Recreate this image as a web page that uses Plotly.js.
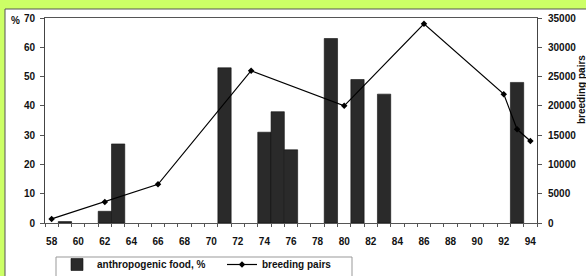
<!DOCTYPE html>
<html>
<head>
<meta charset="utf-8">
<script src="https://cdn.plot.ly/plotly-3.0.1.min.js"></script>
<style>html,body{margin:0;padding:0;background:#fff;}#chart{width:586px;height:276px;}</style>
</head>
<body>
<div id="chart"></div>
<script>
// Data
var barYears = [59, 62, 63, 71, 74, 75, 76, 79, 81, 83, 93];
var foodPct  = [0.5, 4, 27, 53, 31, 38, 25, 63, 49, 44, 48];
var pairYears = [58, 62, 66, 73, 80, 86, 92, 93, 94];
var pairs     = [700, 3600, 6600, 26000, 20000, 34000, 22000, 16000, 14000];
var xTickVals = [58,60,62,64,66,68,70,72,74,76,78,80,82,84,86,88,90,92,94];
var leftTicks = [0,10,20,30,40,50,60,70];
var rightTicks = [0,5000,10000,15000,20000,25000,30000,35000];
var barName = 'anthropogenic food, %';
var lineName = 'breeding pairs';

var W = 586, H = 276;
var M = {l: 45, r: 49, t: 18, b: 53};
var pw = W - M.l - M.r, ph = H - M.t - M.b;
function px2x(p){ return (p - M.l) / pw; }
function py2y(p){ return (H - M.b - p) / ph; }

var font = {family: '"Liberation Sans", Arial, sans-serif', size: 10, color: '#111', weight: 'bold'};

var traces = [
  {
    type: 'bar', name: barName, x: barYears, y: foodPct,
    width: 1,
    marker: {color: '#2a2a2a', line: {color: '#111', width: 0.6}},
    xaxis: 'x', yaxis: 'y'
  },
  {
    type: 'scatter', mode: 'lines+markers', name: lineName, x: pairYears, y: pairs,
    line: {color: '#000', width: 1.2},
    marker: {symbol: 'diamond', size: 5, color: '#000'},
    xaxis: 'x', yaxis: 'y2'
  }
];

var layout = {
  width: W, height: H,
  margin: {l: M.l, r: M.r, t: M.t, b: M.b, pad: 0, autoexpand: false},
  paper_bgcolor: '#ccff66',
  plot_bgcolor: '#ffffff',
  showlegend: true,
  bargap: 0,
  font: font,
  xaxis: {
    range: [57.5, 94.5],
    tickmode: 'array', tickvals: xTickVals,
    ticks: '', ticklen: 0,
    minor: {tick0: 57.5, dtick: 1, ticks: 'outside', ticklen: 3, tickcolor: '#555', showgrid: false},
    showline: true, linecolor: '#555', linewidth: 1, mirror: true,
    showgrid: false, zeroline: false,
    tickfont: font, ticklabelstandoff: 9
  },
  yaxis: {
    range: [0, 70], tickmode: 'array', tickvals: leftTicks,
    ticks: 'outside', ticklen: 4, tickcolor: '#555',
    showline: true, linecolor: '#444', linewidth: 1,
    showgrid: false, zeroline: false, tickfont: font, ticklabelstandoff: 3
  },
  yaxis2: {
    range: [0, 35000], tickmode: 'array', tickvals: rightTicks, tickformat: 'd',
    overlaying: 'y', side: 'right',
    ticks: 'outside', ticklen: 4, tickcolor: '#555',
    showline: true, linecolor: '#444', linewidth: 1,
    showgrid: false, zeroline: false, tickfont: font, ticklabelstandoff: 4
  },
  legend: {
    orientation: 'h', x: px2x(57), y: py2y(250), xanchor: 'left', yanchor: 'top',
    bgcolor: 'rgba(0,0,0,0)', borderwidth: 0,
    font: font, entrywidth: 120, traceorder: 'normal'
  },
  shapes: [
    {type: 'rect', xref: 'paper', yref: 'paper', layer: 'below',
     x0: px2x(5), x1: px2x(W + 5), y0: py2y(H + 5), y1: py2y(9),
     fillcolor: '#ffffff', line: {color: '#555', width: 1}},
    {type: 'rect', xref: 'paper', yref: 'paper', layer: 'below',
     x0: px2x(56), x1: px2x(352), y0: py2y(H + 5), y1: py2y(257),
     fillcolor: '#ffffff', line: {color: '#999', width: 1}}
  ],
  annotations: [
    {xref: 'paper', yref: 'paper', x: px2x(15), y: py2y(20), text: '%', showarrow: false,
     font: font, xanchor: 'center', yanchor: 'middle'},
    {xref: 'paper', yref: 'paper', x: px2x(581), y: py2y(90), text: 'breeding pairs', showarrow: false,
     textangle: -90, font: font, xanchor: 'center', yanchor: 'middle'}
  ]
};

Plotly.newPlot('chart', traces, layout, {displayModeBar: false, staticPlot: true});
</script>
</body>
</html>
